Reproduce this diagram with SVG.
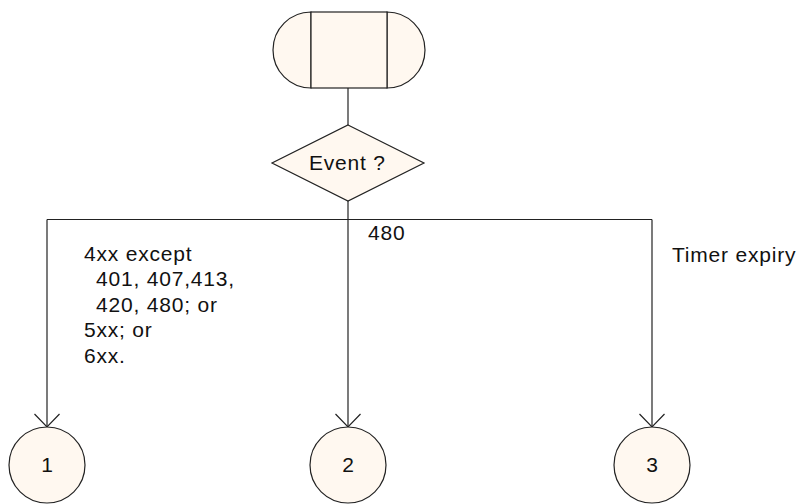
<svg xmlns="http://www.w3.org/2000/svg" width="801" height="504" viewBox="0 0 801 504">
<style>
.shape{fill:#FFF8F0;stroke:#222;stroke-width:1.2}
.line{fill:none;stroke:#222;stroke-width:1.2}
text{font-family:"Liberation Sans",Arial,sans-serif;font-size:21px;letter-spacing:0.8px;fill:#111}
.num{font-size:21px;letter-spacing:0;text-anchor:middle}
</style>
<defs>
<marker id="arr" markerUnits="userSpaceOnUse" markerWidth="30" markerHeight="30" refX="15" refY="15" orient="auto" viewBox="0 0 30 30">
<path d="M2,2.5 L15,15 L2,27.5" fill="none" stroke="#222" stroke-width="1.2"/>
</marker>
</defs>
<g id="start">
<path class="shape" d="M311,12 A38,38 0 0 0 311,88 Z"/>
<path class="shape" d="M387,12 A38,38 0 0 1 387,88 Z"/>
<rect class="shape" x="311" y="12" width="76" height="76"/>
</g>
<g id="decision">
<polygon class="shape" points="348,125 424,163 348,201 272,163"/>
<text x="309" y="170">Event ?</text>
</g>
<g id="connectors">
<line class="line" x1="348" y1="88" x2="348" y2="125"/>
<line class="line" x1="348" y1="201" x2="348" y2="219.5"/>
<line class="line" x1="47" y1="219.5" x2="652" y2="219.5"/>
<line class="line" x1="47" y1="219.5" x2="47" y2="427" marker-end="url(#arr)"/>
<line class="line" x1="348" y1="219.5" x2="348" y2="427" marker-end="url(#arr)"/>
<line class="line" x1="652" y1="219.5" x2="652" y2="427" marker-end="url(#arr)"/>
<text x="368" y="239.5">480</text>
<text x="84" y="261">4xx except</text>
<text x="96" y="286">401, 407,413,</text>
<text x="96" y="311.5">420, 480; or</text>
<text x="84" y="337">5xx; or</text>
<text x="84" y="363">6xx.</text>
<text x="672" y="262">Timer expiry</text>
</g>
<g id="c1">
<circle class="shape" cx="47" cy="465" r="38"/>
<text class="num" x="47" y="472">1</text>
</g>
<g id="c2">
<circle class="shape" cx="348" cy="465" r="38"/>
<text class="num" x="348" y="472">2</text>
</g>
<g id="c3">
<circle class="shape" cx="652" cy="465" r="38"/>
<text class="num" x="652" y="472">3</text>
</g>
</svg>
